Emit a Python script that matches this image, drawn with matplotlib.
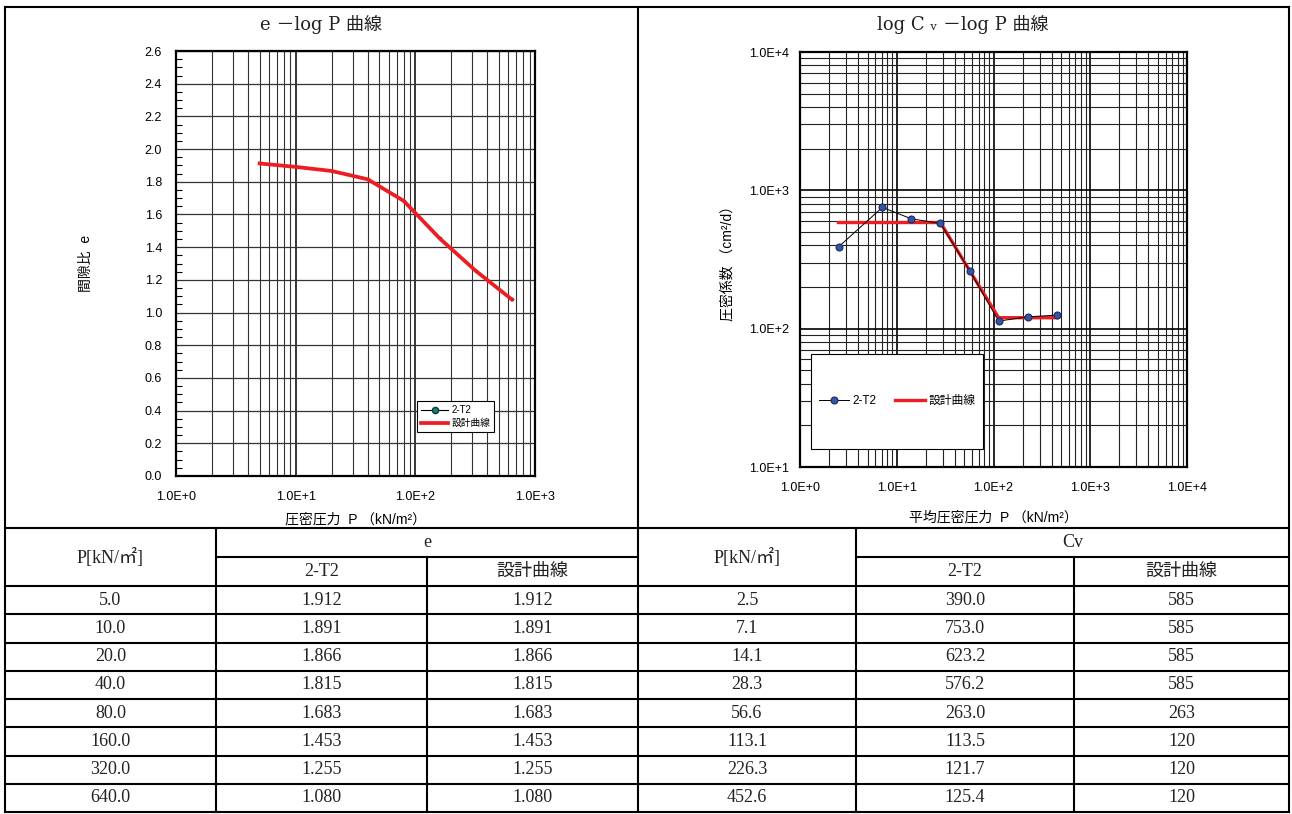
import numpy as np
import matplotlib
matplotlib.use("Agg")
import matplotlib.pyplot as plt
from matplotlib.lines import Line2D
from matplotlib.patches import Rectangle
from matplotlib.ticker import FuncFormatter, MultipleLocator, NullFormatter, LogLocator

# ---- data ----
p_e = [5.0, 10.0, 20.0, 40.0, 80.0, 160.0, 320.0, 640.0]
e_t2 = [1.912, 1.891, 1.866, 1.815, 1.683, 1.453, 1.255, 1.080]
e_design = [1.912, 1.891, 1.866, 1.815, 1.683, 1.453, 1.255, 1.080]

p_cv = [2.5, 7.1, 14.1, 28.3, 56.6, 113.1, 226.3, 452.6]
cv_t2 = [390.0, 753.0, 623.2, 576.2, 263.0, 113.5, 121.7, 125.4]
cv_design = [585, 585, 585, 585, 263, 120, 120, 120]

series_names = ["2-T2", "設計曲線"]
e_yticks = [0.0, 0.2, 0.4, 0.6, 0.8, 1.0, 1.2, 1.4, 1.6, 1.8, 2.0, 2.2, 2.4, 2.6]

plt.rcParams['font.family'] = ['Liberation Sans', 'Noto Sans CJK JP', 'DejaVu Sans']

W, H = 1292, 814
fig = plt.figure(figsize=(W / 100, H / 100), dpi=100)


def fx(x):
    return x / W


def fy(y):
    return 1 - y / H


def hline(x0, x1, y, lw=1.5):
    fig.add_artist(Line2D([fx(x0), fx(x1)], [fy(y), fy(y)], color='black',
                          lw=lw, transform=fig.transFigure))


def vline(x, y0, y1, lw=1.5):
    fig.add_artist(Line2D([fx(x), fx(x)], [fy(y0), fy(y1)], color='black',
                          lw=lw, transform=fig.transFigure))


def sci(v, pos):
    return f"1.0E+{int(round(np.log10(v)))}"


tick_font = dict(family=['Liberation Sans'], size=9)
label_font = ['Liberation Sans', 'Noto Sans CJK JP']
title_font = ['DejaVu Serif', 'DejaVu Sans', 'Noto Sans CJK JP']
red = '#ee1d23'

# ---- e - log P ----
ax1 = fig.add_axes([fx(176), fy(476), (535 - 176) / W, (476 - 51) / H])
ax1.set_xscale('log')
ax1.set_xlim(1, 1000)
ax1.set_ylim(0, 2.6)
ax1.set_yticks(e_yticks)
ax1.yaxis.set_major_formatter(FuncFormatter(lambda v, p: f"{v:.1f}"))
ax1.yaxis.set_minor_locator(MultipleLocator(0.05))
ax1.xaxis.set_major_formatter(FuncFormatter(sci))
ax1.xaxis.set_minor_locator(LogLocator(base=10, subs=np.arange(2, 10)))
ax1.xaxis.set_minor_formatter(NullFormatter())
ax1.xaxis.grid(True, which='major', color='black', lw=1.1)
ax1.xaxis.grid(True, which='minor', color='#333333', lw=0.8)
ax1.yaxis.grid(True, which='major', color='#333333', lw=0.9)
ax1.tick_params(axis='both', which='both', length=0)
ax1.tick_params(axis='y', which='minor', length=4, direction='in', width=0.8, left=True)
ax1.tick_params(axis='y', which='major', pad=10)
ax1.tick_params(axis='x', which='major', pad=11)
for lab in ax1.get_xticklabels() + ax1.get_yticklabels():
    lab.set_fontfamily(tick_font['family'])
    lab.set_fontsize(tick_font['size'])
for s in ax1.spines.values():
    s.set_linewidth(1.6)

# the 2-T2 e values coincide with the design curve and sit under it
ax1.plot(p_e, e_t2, color='black', lw=0.8, marker='o', ms=1.6,
         mfc='#1b7d73', mec='#0d3d38', zorder=2, label=series_names[0])
ax1.plot(p_e, e_design, color=red, lw=2.7, zorder=3, label=series_names[1])
leg1 = ax1.legend(loc='lower right', bbox_to_anchor=(0.886, 0.1035), borderaxespad=0,
                  prop={'family': label_font, 'size': 7}, markerscale=2.8,
                  handlelength=2.8, handletextpad=0.3, labelspacing=0.3,
                  borderpad=0.4, fancybox=False, framealpha=1)
leg1.get_frame().set_edgecolor('black')
leg1.get_frame().set_linewidth(0.8)

ax1.set_ylabel("間隙比  e", family=label_font, fontsize=10)
ax1.yaxis.set_label_coords(-0.231, 0.5)
ax1.set_xlabel("圧密圧力  P （kN/m²）", family=label_font, fontsize=10)
ax1.xaxis.set_label_coords(0.5, -0.085)

# ---- log Cv - log P ----
ax2 = fig.add_axes([fx(800), fy(467), 387 / W, (467 - 52) / H])
ax2.set_xscale('log')
ax2.set_yscale('log')
ax2.set_xlim(1, 1e4)
ax2.set_ylim(10, 1e4)
for axis in (ax2.xaxis, ax2.yaxis):
    axis.set_major_formatter(FuncFormatter(sci))
    axis.set_minor_locator(LogLocator(base=10, subs=np.arange(2, 10)))
    axis.set_minor_formatter(NullFormatter())
ax2.grid(True, which='major', color='black', lw=1.2)
ax2.grid(True, which='minor', color='#222222', lw=0.8)
ax2.tick_params(axis='both', which='both', length=0)
ax2.tick_params(axis='y', which='major', pad=8)
ax2.tick_params(axis='x', which='major', pad=11)
for lab in ax2.get_xticklabels() + ax2.get_yticklabels():
    lab.set_fontfamily(tick_font['family'])
    lab.set_fontsize(tick_font['size'])
for s in ax2.spines.values():
    s.set_linewidth(1.6)

ax2.plot(p_cv, cv_design, color=red, lw=2.4, zorder=3, label=series_names[1])
ax2.plot(p_cv, cv_t2, color='black', lw=0.7, marker='o', ms=5,
         mfc='#3454a8', mec='#1a2a5a', mew=0.8, zorder=4, label=series_names[0])

ax2.add_patch(Rectangle((0.028, 0.043), 0.445, 0.229, transform=ax2.transAxes,
                        fc='white', ec='black', lw=0.8, zorder=5))
h, l = ax2.get_legend_handles_labels()
leg2 = ax2.legend(h[::-1], l[::-1], loc='center', bbox_to_anchor=(0.251, 0.159),
                  ncol=2, frameon=False, prop={'family': label_font, 'size': 8.5},
                  handlelength=2.5, handletextpad=0.3, columnspacing=1.6)
leg2.set_zorder(6)

ax2.set_ylabel("圧密係数 （cm²/d）", family=label_font, fontsize=10)
ax2.yaxis.set_label_coords(-0.168, 0.5)
ax2.set_xlabel("平均圧密圧力  P （kN/m²）", family=label_font, fontsize=10)
ax2.xaxis.set_label_coords(0.5, -0.104)

# ---- panel titles ----
fig.text(fx(321), fy(24), "e －log P 曲線", ha='center', va='center',
         family=title_font, fontsize=13, color='#222222')
fig.text(fx(963), fy(24), "log C ᵥ －log P 曲線", ha='center', va='center',
         family=title_font, fontsize=13, color='#222222')

# ---- frame and table ----
cols = [5, 216, 427, 638, 856, 1074, 1289]
top, head_mid, data_top, bottom = 528, 557, 586, 812
row_h = (bottom - data_top) / len(p_e)

hline(cols[0], cols[6], 7)
hline(cols[0], cols[6], top)
hline(cols[1], cols[3], head_mid)
hline(cols[4], cols[6], head_mid)
for k in range(len(p_e) + 1):
    hline(cols[0], cols[6], data_top + k * row_h)
for x in (cols[0], cols[3], cols[6]):
    vline(x, 7, bottom)
for x in (cols[1], cols[4]):
    vline(x, top, bottom)
for x in (cols[2], cols[5]):
    vline(x, head_mid, bottom)

cell_font = ['Liberation Serif', 'Noto Sans CJK JP']


def cell(x0, x1, y0, y1, s):
    fig.text(fx((x0 + x1) / 2), fy((y0 + y1) / 2), s, ha='center', va='center',
             family=cell_font, fontsize=13, color='#222222')


for c0 in (0, 3):
    cell(cols[c0], cols[c0 + 1], top, data_top, "P[kN/㎡]")
    cell(cols[c0 + 1], cols[c0 + 2], head_mid, data_top, series_names[0])
    cell(cols[c0 + 2], cols[c0 + 3], head_mid, data_top, series_names[1])
cell(cols[1], cols[3], top, head_mid, "e")
cell(cols[4], cols[6], top, head_mid, "Cv")

for k in range(len(p_e)):
    y0 = data_top + k * row_h
    y1 = y0 + row_h
    cell(cols[0], cols[1], y0, y1, f"{p_e[k]:.1f}")
    cell(cols[1], cols[2], y0, y1, f"{e_t2[k]:.3f}")
    cell(cols[2], cols[3], y0, y1, f"{e_design[k]:.3f}")
    cell(cols[3], cols[4], y0, y1, f"{p_cv[k]:.1f}")
    cell(cols[4], cols[5], y0, y1, f"{cv_t2[k]:.1f}")
    cell(cols[5], cols[6], y0, y1, f"{cv_design[k]:d}")

fig.savefig("out.png", dpi=100)
